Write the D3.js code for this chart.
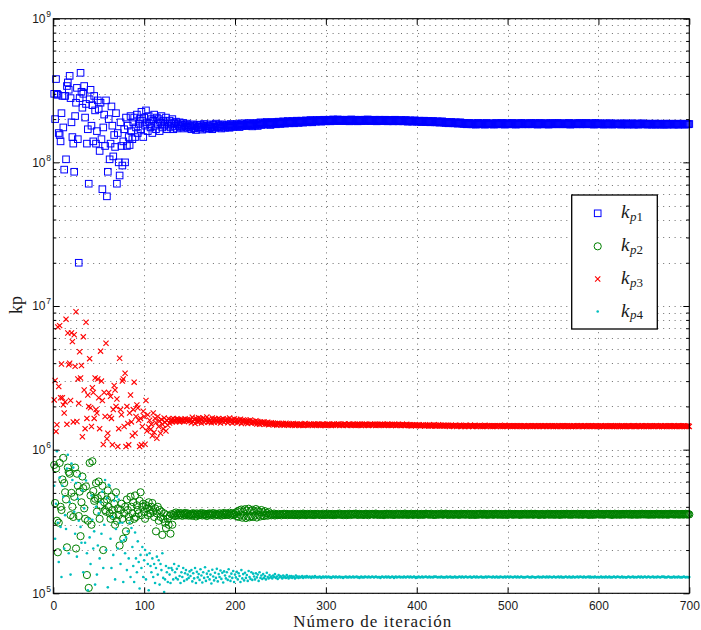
<!DOCTYPE html>
<html>
<head>
<meta charset="utf-8">
<script src="https://cdn.jsdelivr.net/npm/d3@7"></script>
<style>
  body { margin: 0; background: #fff; }
  svg { display: block; }
</style>
</head>
<body>
<svg id="chart" width="701" height="630"></svg>
<script>
// Iteration numbers: transient phase (1-150) and settled phase (151-700)
const earlyIter = d3.range(1, 151);
const tailIter = d3.range(151, 701);

// kp1 values, in units of 1e6
const kp1Early = [300,200,380,300,295,160,155,140,220,290,
  175,89,290,105,340,360,320,400,280,190,
  150,135,86,210,260,330,145,20,280,420,
  310,240,300,340,205,255,135,170,71,275,
  320,180,250,140,290,230,135,165,270,235,
  120,260,145,65,175,215,130,270,58,86,
  200,105,135,245,180,110,155,128,220,71,
  160,100,81,190,130,95,140,170,100,205,
  130,180,150,132,210,165,145,190,205,150,
  175,215,160,185,200,170,225,195,150,205,
  180,230,190,165,210,185,175,200,160,195,
  215,180,170,205,185,200,165,190,210,175,
  195,180,185,205,170,190,180,195,175,185,
  200,170,188,178,192,172,185,180,190,175,
  183,178,188,172,182,177,186,174,181,176];
const kp1Tail = [181,170,178,184,173,179,168,182,175,177,
  172,183,176,169,180,185,174,178,171,181,
  179,173,184,176,170,182,177,174,186,175,
  178,183,175,180,172,184,177,181,174,179,
  182,176,180,174,185,178,183,176,181,179,
  180,185,178,183,176,182,187,179,184,181,
  183,179,186,181,188,180,184,182,178,186,
  185,181,188,183,179,187,184,190,182,186,
  187,183,189,185,191,184,188,186,182,190,
  188,185,191,187,184,190,186,192,188,185,
  190,187,193,189,186,191,188,194,190,187,
  191,189,194,190,187,193,190,195,191,188,
  193,190,195,192,189,194,191,196,193,190,
  194,192,197,193,190,196,193,195,192,197,
  195,193,197,194,192,196,194,198,195,193,
  196,194,198,195,193,197,195,199,196,194,
  197,195,199,196,194,198,195,197,194,198,
  196,194,198,195,197,193,196,199,195,197,
  195,198,194,196,193,197,195,198,194,196,
  197,195,198,194,196,199,195,197,194,196,
  195,197,194,198,196,193,197,195,198,194,
  196,194,197,195,198,194,196,193,197,195,
  194,197,195,193,196,198,194,196,195,193,
  196,194,197,195,193,196,194,197,195,192,
  195,193,196,194,192,195,193,196,194,192,
  194,192,195,193,191,194,192,195,193,191,
  193,191,194,192,190,193,191,194,192,190,
  192,190,193,191,189,192,190,193,191,189,
  190,188,191,189,187,190,188,191,189,187,
  189,187,190,188,186,189,187,190,188,186,
  187,185,188,186,184,187,185,188,186,184,
  186,184,187,185,183,186,188,185,184,187,
  185,187,184,186,183,185,188,184,186,185,
  186,184,187,185,183,186,185,188,184,186,
  185,187,184,186,188,185,183,186,185,187,
  184,186,185,188,184,186,187,185,183,186,
  186,184,187,185,188,184,186,185,187,184,
  185,187,184,186,185,188,184,186,187,185,
  187,185,183,186,188,184,186,185,187,184,
  186,184,187,185,183,186,188,185,184,186,
  185,187,184,186,188,185,184,187,185,186,
  184,186,185,187,184,186,188,185,183,186,
  186,184,187,185,186,184,187,185,188,184,
  185,187,184,186,185,188,184,186,187,185,
  186,184,187,185,183,186,188,185,184,186,
  185,187,184,186,185,183,186,184,187,185,
  184,186,185,187,183,185,186,184,186,185,
  186,184,186,185,183,186,184,187,185,184,
  185,183,186,184,185,187,184,185,183,186,
  184,186,185,183,186,184,185,187,184,185,
  185,184,186,183,185,184,186,185,183,185,
  184,186,183,185,184,186,185,183,185,184,
  185,183,186,184,185,183,184,186,184,185,
  184,185,183,185,184,186,184,183,185,184,
  185,184,186,184,183,185,184,185,184,185];

// kp2 values, in units of 1e3
const kp2Early = [782,425,740,320,193,310,808,400,380,620,
  876,585,505,450,209,750,700,680,350,500,
  400,340,470,750,205,680,560,345,510,250,
  430,650,540,390,330,555,134,320,109,808,
  480,300,830,515,440,455,585,370,460,600,
  330,410,480,560,200,430,380,370,450,520,
  400,360,330,470,380,345,420,300,505,320,
  390,350,215,380,420,330,240,360,400,270,
  450,380,340,320,470,400,360,430,330,480,
  340,410,380,360,440,505,350,400,420,370,
  330,410,390,350,430,380,360,400,425,370,
  340,390,270,360,400,320,380,340,370,255,
  330,360,310,285,350,330,300,345,260,355,
  300,350,360,345,365,350,358,348,362,352,
  360,346,357,351,363,349,356,360,347,355];
const kp2Tail = [350,358,346,361,352,356,343,360,354,349,
  357,351,362,348,355,359,350,356,345,358,
  353,360,349,356,351,362,347,355,358,352,
  356,349,361,353,347,358,352,363,350,355,
  359,351,356,364,348,355,361,350,357,353,
  366,344,372,340,378,352,383,336,370,347,
  385,334,376,342,388,338,374,345,381,340,
  372,348,386,337,377,352,369,343,380,350,
  366,345,373,351,362,347,368,352,358,349,
  355,351,359,348,356,353,350,357,352,355,
  349,356,353,358,351,354,357,350,355,352,
  356,351,354,358,350,355,352,357,353,349,
  354,357,351,355,359,352,356,350,354,357,
  352,355,358,351,354,356,350,357,353,355,
  357,352,355,350,356,353,358,351,355,352,
  354,358,351,356,352,355,357,350,354,356,
  351,355,357,353,359,352,354,356,350,355,
  356,353,350,357,354,358,351,355,353,357,
  353,356,359,352,355,351,357,354,356,352,
  355,351,356,358,353,355,350,357,354,356,
  357,354,352,356,359,353,355,351,356,354,
  352,356,354,350,357,355,358,352,354,357,
  355,352,357,354,351,356,353,358,355,352,
  354,357,353,356,352,355,359,353,356,351,
  356,353,355,358,354,351,356,354,357,353,
  353,356,351,355,357,354,352,356,353,358,
  357,354,356,352,355,358,353,355,351,356,
  354,352,357,355,353,356,359,354,352,355,
  356,359,353,355,351,357,354,356,353,355,
  352,355,357,353,356,354,351,355,358,354,
  355,357,352,356,354,358,353,355,351,357,
  353,356,354,351,357,355,352,356,354,358,
  356,352,355,358,353,356,354,351,357,355,
  354,357,353,355,352,356,358,354,355,352,
  357,354,356,352,355,353,357,355,351,356,
  353,355,358,354,356,352,355,357,353,356,
  356,353,355,351,357,354,356,353,358,354,
  354,357,352,356,355,358,353,355,352,357,
  357,354,356,353,351,356,354,357,355,352,
  353,356,354,358,355,352,357,354,356,353,
  356,352,355,357,353,356,354,351,357,355,
  354,357,353,355,358,354,356,352,355,357,
  352,355,357,354,356,353,358,355,352,356,
  357,354,352,356,355,357,353,356,354,351,
  355,358,354,352,357,355,353,356,358,354,
  354,356,353,357,355,352,356,354,357,355,
  356,353,357,355,351,356,354,358,353,355,
  353,357,355,352,356,354,357,355,353,356,
  357,354,356,353,358,355,352,356,354,357,
  355,352,356,354,357,353,355,358,354,356,
  354,357,353,356,355,352,357,354,356,353,
  356,353,355,358,354,356,353,355,357,354,
  353,356,354,357,355,352,356,354,358,355,
  357,354,356,353,355,357,354,356,353,355,
  355,357,353,356,354,358,355,353,356,354];

// kp3 values, in units of 1e3
const kp3Early = [2220,3030,1340,1490,7150,2750,7300,2300,3950,2300,
  2050,1800,2150,8100,1500,6490,3900,4000,2200,6500,
  5650,1560,6300,3800,9120,1570,3100,2100,4800,3150,
  3850,1230,6100,2600,1400,7700,1650,2400,2000,4300,
  1960,1450,2700,2500,1650,3150,1900,1800,3100,2300,
  1400,4850,3000,2200,1085,2500,1700,5500,1190,1300,
  2500,1700,2350,1650,1080,1900,2800,2600,2000,2250,
  1050,1400,4330,1900,1750,3000,3100,1450,3400,1050,
  2000,1520,1080,1800,2400,1560,1250,1900,2950,1300,
  1700,2050,1950,1600,1050,1650,1080,1450,1850,1700,
  1090,2200,1350,1750,1430,1600,1380,1500,1250,1800,
  1320,1650,1540,1200,1700,1450,1580,1300,1620,1500,
  1400,1660,1550,1350,1600,1480,1640,1530,1590,1620,
  1560,1650,1580,1610,1570,1640,1590,1620,1560,1600,
  1630,1580,1610,1570,1640,1590,1600,1620,1570,1610];
const kp3Tail = [1610,1540,1680,1570,1630,1520,1650,1590,1560,1670,
  1580,1640,1530,1610,1660,1550,1620,1590,1690,1560,
  1630,1570,1600,1540,1660,1610,1550,1640,1580,1620,
  1560,1650,1600,1530,1620,1580,1640,1550,1610,1590,
  1630,1540,1600,1660,1570,1610,1530,1590,1640,1560,
  1590,1620,1540,1600,1570,1630,1520,1580,1610,1550,
  1600,1540,1580,1520,1590,1560,1610,1530,1570,1550,
  1560,1530,1590,1510,1570,1540,1500,1560,1530,1550,
  1520,1560,1500,1540,1510,1550,1490,1530,1510,1540,
  1500,1530,1490,1520,1510,1480,1530,1500,1520,1490,
  1510,1490,1520,1480,1500,1530,1490,1510,1480,1500,
  1490,1510,1480,1520,1500,1470,1510,1490,1500,1480,
  1500,1480,1510,1490,1470,1500,1520,1480,1500,1490,
  1480,1510,1490,1500,1470,1490,1510,1480,1500,1490,
  1510,1480,1500,1470,1490,1510,1480,1500,1490,1470,
  1490,1510,1480,1500,1490,1470,1500,1480,1510,1490,
  1480,1500,1490,1510,1470,1490,1500,1480,1490,1510,
  1500,1480,1490,1470,1500,1510,1480,1490,1500,1480,
  1490,1500,1470,1490,1510,1480,1500,1490,1470,1500,
  1480,1490,1510,1480,1500,1490,1470,1490,1500,1480,
  1500,1480,1490,1510,1470,1490,1500,1480,1490,1500,
  1480,1500,1490,1470,1500,1480,1490,1510,1480,1490,
  1490,1470,1500,1480,1490,1500,1470,1490,1480,1500,
  1480,1490,1470,1500,1480,1490,1470,1480,1500,1480,
  1470,1490,1480,1460,1490,1480,1470,1490,1470,1480,
  1480,1470,1490,1460,1480,1470,1490,1470,1460,1480,
  1470,1480,1460,1490,1470,1460,1480,1470,1490,1460,
  1480,1460,1470,1490,1460,1480,1470,1460,1480,1470,
  1460,1480,1470,1460,1480,1450,1470,1480,1460,1470,
  1470,1460,1480,1450,1470,1460,1480,1470,1450,1470,
  1460,1470,1450,1480,1460,1470,1450,1460,1480,1460,
  1470,1450,1460,1480,1460,1450,1470,1460,1470,1450,
  1460,1470,1450,1460,1480,1460,1450,1470,1460,1470,
  1450,1460,1470,1450,1460,1470,1460,1450,1470,1460,
  1470,1450,1460,1470,1450,1460,1480,1460,1450,1460,
  1460,1470,1450,1460,1470,1450,1460,1470,1460,1450,
  1470,1460,1450,1470,1460,1450,1460,1470,1450,1460,
  1450,1460,1470,1460,1450,1470,1460,1450,1460,1470,
  1460,1450,1460,1470,1450,1460,1470,1460,1450,1460,
  1470,1460,1450,1460,1470,1450,1460,1460,1470,1450,
  1460,1470,1450,1460,1450,1470,1460,1450,1460,1470,
  1450,1460,1470,1450,1460,1470,1450,1460,1460,1450,
  1460,1450,1470,1460,1450,1460,1470,1450,1460,1460,
  1470,1450,1460,1450,1470,1460,1450,1460,1470,1450,
  1460,1470,1450,1460,1460,1450,1470,1460,1450,1460,
  1450,1460,1470,1450,1460,1450,1460,1470,1450,1460,
  1460,1450,1460,1470,1450,1460,1460,1450,1470,1450,
  1470,1450,1460,1450,1460,1470,1450,1460,1450,1460,
  1450,1460,1470,1450,1460,1450,1460,1460,1470,1450,
  1460,1450,1460,1470,1450,1460,1450,1470,1460,1450,
  1460,1470,1450,1460,1450,1460,1470,1450,1460,1460,
  1450,1460,1460,1470,1450,1460,1450,1460,1470,1450,
  1460,1450,1470,1460,1450,1460,1460,1450,1470,1460,
  1450,1460,1470,1450,1460,1450,1460,1470,1450,1460,
  1460,1450,1460,1470,1450,1460,1450,1460,1460,1450];

// kp4 values, in units of 1e3
const kp4Early = [560,240,420,975,310,165,640,290,130,560,
  470,205,350,280,740,920,190,430,135,800,
  615,750,370,260,585,180,455,320,655,290,
  225,520,140,390,225,610,190,105,330,245,
  160,480,325,205,270,115,400,135,215,360,
  175,430,260,510,150,300,615,200,460,110,
  570,560,240,150,340,185,440,125,280,470,
  205,450,310,160,230,310,120,235,190,245,
  145,270,175,310,130,285,210,155,120,265,
  175,140,230,165,108,185,150,210,130,170,
  200,125,185,160,105,190,155,140,175,130,
  160,118,150,180,135,170,115,160,145,190,
  128,102,125,155,140,120,150,135,118,150,
  145,125,160,140,128,148,125,155,132,118,
  140,130,150,122,138,145,125,135,128,142];
const kp4Tail = [132,145,121,138,127,150,118,141,129,136,
  124,147,133,119,140,128,152,122,137,130,
  143,125,135,117,146,131,123,139,128,148,
  121,136,130,144,126,139,119,142,133,127,
  140,124,147,131,122,137,128,143,120,135,
  129,141,125,138,132,120,145,127,136,123,
  139,128,134,122,143,130,126,140,124,137,
  131,125,138,129,135,122,140,128,133,126,
  136,128,132,125,139,130,127,134,129,131,
  127,133,130,136,128,131,126,134,129,132,
  130,127,133,129,131,128,134,130,127,132,
  129,132,128,131,130,127,133,129,131,128,
  131,129,130,132,128,130,131,129,132,130,
  129,131,130,128,131,130,129,132,130,129,
  130,129,131,130,128,130,131,129,130,131,
  129,130,131,129,130,128,130,131,130,129,
  131,130,129,130,131,129,130,130,128,130,
  130,131,129,130,129,131,130,129,130,131,
  129,130,130,131,129,130,128,130,131,129,
  130,129,131,130,130,129,131,130,129,130,
  131,130,129,130,131,130,129,130,130,128,
  130,131,130,129,130,131,129,130,131,129,
  129,130,131,130,128,130,131,129,130,130,
  131,129,130,130,129,131,130,129,130,131,
  130,129,131,130,129,130,131,130,128,130,
  129,131,130,129,130,131,129,130,130,131,
  130,129,130,131,129,130,130,129,131,130,
  131,130,129,130,130,129,131,130,129,130,
  129,130,131,129,130,130,131,129,130,129,
  130,131,129,130,129,130,131,130,129,131,
  130,129,130,131,130,129,130,130,131,129,
  129,130,131,130,129,131,130,129,130,130,
  131,129,130,129,130,131,129,130,131,130,
  130,130,129,131,130,129,130,131,129,130,
  129,131,130,130,129,130,131,129,130,131,
  130,129,131,130,130,129,130,131,130,129,
  131,130,129,130,131,130,129,130,129,130,
  130,131,130,129,130,129,131,130,130,129,
  129,130,130,131,129,130,130,129,131,130,
  130,129,131,130,129,131,130,130,129,130,
  131,130,129,130,130,131,129,130,131,129,
  130,129,130,131,130,129,130,131,129,130,
  129,131,130,129,130,130,131,129,130,131,
  130,130,129,131,130,129,130,130,131,129,
  131,129,130,130,129,131,130,129,130,130,
  129,130,131,129,130,130,129,131,130,129,
  130,131,129,130,129,130,131,130,129,130,
  131,130,130,129,130,131,129,130,130,129,
  129,130,131,130,129,130,130,131,129,130,
  130,129,130,131,130,129,131,130,129,130,
  131,130,129,130,131,130,129,130,130,131,
  129,130,130,129,131,130,130,129,130,131,
  130,131,129,130,129,130,131,130,129,130,
  129,130,131,129,130,130,129,131,130,129,
  130,129,130,131,130,129,130,130,129,130];

const xTicks = [0, 100, 200, 300, 400, 500, 600, 700];
const yDecades = [5, 6, 7, 8, 9];
const legendSubs = ["p1", "p2", "p3", "p4"];

// ---------------------------------------------------------------
const svg = d3.select("#chart");
const plot = { left: 53.3, right: 689.3, top: 18.7, bottom: 593.3 };

const x = d3.scaleLinear().domain([0, 700]).range([plot.left, plot.right]);
const y = d3.scaleLog().domain([1e5, 1e9]).range([plot.bottom, plot.top]);

const majorY = yDecades.map(d => Math.pow(10, d));
const minorY = [];
yDecades.slice(0, -1).forEach(d => {
  for (let m = 2; m <= 9; m++) minorY.push(m * Math.pow(10, d));
});

// dotted grid
const grid = svg.append("g")
  .attr("stroke", "#6e6e6e")
  .attr("stroke-width", 1)
  .attr("stroke-dasharray", "1,4.7");
grid.selectAll("line.gy").data(majorY.concat(minorY)).join("line")
  .attr("class", "gy")
  .attr("x1", plot.left).attr("x2", plot.right)
  .attr("y1", d => Math.round(y(d)) + 0.5).attr("y2", d => Math.round(y(d)) + 0.5);
grid.selectAll("line.gx").data(xTicks.slice(1, -1)).join("line")
  .attr("class", "gx")
  .attr("y1", plot.top).attr("y2", plot.bottom)
  .attr("x1", d => Math.round(x(d)) + 0.5).attr("x2", d => Math.round(x(d)) + 0.5);

// series
const iterations = earlyIter.concat(tailIter);
const series = [
  { vals: kp1Early.concat(kp1Tail), unit: 1e6, kind: "square", color: "#0000ff" },
  { vals: kp2Early.concat(kp2Tail), unit: 1e3, kind: "circle", color: "#008000" },
  { vals: kp3Early.concat(kp3Tail), unit: 1e3, kind: "cross",  color: "#ff0000" },
  { vals: kp4Early.concat(kp4Tail), unit: 1e3, kind: "dot",    color: "#00bfbf" }
];

function drawMarker(sel, kind, color) {
  if (kind === "square") {
    sel.append("rect").attr("x", -3.3).attr("y", -3.3).attr("width", 6.6).attr("height", 6.6)
      .attr("fill", "none").attr("stroke", color).attr("stroke-width", 1);
  } else if (kind === "circle") {
    sel.append("circle").attr("r", 3.6)
      .attr("fill", "none").attr("stroke", color).attr("stroke-width", 1);
  } else if (kind === "cross") {
    sel.append("path").attr("d", "M-2.6,-2.6L2.6,2.6M-2.6,2.6L2.6,-2.6")
      .attr("fill", "none").attr("stroke", color).attr("stroke-width", 1.1);
  } else {
    sel.append("circle").attr("r", 1.3).attr("fill", color);
  }
}

series.forEach(s => {
  const pts = iterations.map((it, i) => ({ it, v: s.vals[i] * s.unit }))
    .filter(p => p.v >= 1e5 && p.v <= 1e9);
  const g = svg.append("g");
  g.selectAll("g").data(pts).join("g")
    .attr("transform", p => `translate(${x(p.it)},${y(p.v)})`)
    .each(function () { drawMarker(d3.select(this), s.kind, s.color); });
});

// axes with inward ticks
function styleAxis(g) {
  g.select(".domain").remove();
  g.selectAll(".tick line").attr("stroke", "#000").attr("stroke-width", 1);
}
svg.append("g").attr("transform", `translate(0,${plot.bottom})`)
  .call(d3.axisBottom(x).tickValues(xTicks).tickSizeInner(-6).tickSizeOuter(0)
    .tickPadding(7.8).tickFormat(d3.format("d")))
  .call(styleAxis)
  .call(g => g.selectAll("text").attr("font-family", "Liberation Sans, Arial, sans-serif")
    .attr("font-size", 12).attr("fill", "#1a1a1a"));
svg.append("g").attr("transform", `translate(0,${plot.top})`)
  .call(d3.axisTop(x).tickValues(xTicks).tickSizeInner(-6).tickSizeOuter(0).tickFormat(""))
  .call(styleAxis);
[[d3.axisLeft, plot.left], [d3.axisRight, plot.right]].forEach(([axisFn, pos]) => {
  svg.append("g").attr("transform", `translate(${pos},0)`)
    .call(axisFn(y).tickValues(majorY).tickSizeInner(-6).tickSizeOuter(0).tickFormat(""))
    .call(styleAxis);
  svg.append("g").attr("transform", `translate(${pos},0)`)
    .call(axisFn(y).tickValues(minorY).tickSizeInner(-3).tickSizeOuter(0).tickFormat(""))
    .call(styleAxis);
});

// y tick labels as powers of ten
const yLab = svg.append("g").attr("font-family", "Liberation Sans, Arial, sans-serif").attr("fill", "#1a1a1a");
yDecades.forEach(d => {
  const yy = y(Math.pow(10, d));
  yLab.append("text").attr("x", 45.5).attr("y", yy + 4.4).attr("text-anchor", "end")
    .attr("font-size", 12).text("10");
  yLab.append("text").attr("x", 46.3).attr("y", yy - 1.8).attr("text-anchor", "start")
    .attr("font-size", 8.5).text(d);
});

// frame
svg.append("rect")
  .attr("x", plot.left).attr("y", plot.top)
  .attr("width", plot.right - plot.left).attr("height", plot.bottom - plot.top)
  .attr("fill", "none").attr("stroke", "#000").attr("stroke-width", 1.1);

// axis titles
svg.append("text")
  .attr("x", (plot.left + plot.right) / 2 + 1).attr("y", 627.2)
  .attr("text-anchor", "middle")
  .attr("font-family", "Liberation Serif, Times New Roman, serif").attr("font-size", 17)
  .attr("textLength", 158).attr("lengthAdjust", "spacing")
  .attr("fill", "#1a1a1a")
  .text("Número de iteración");
svg.append("text")
  .attr("transform", "translate(22,305) rotate(-90)")
  .attr("text-anchor", "middle")
  .attr("font-family", "Liberation Serif, Times New Roman, serif").attr("font-size", 18)
  .attr("fill", "#1a1a1a")
  .text("kp");

// legend
const lg = svg.append("g");
lg.append("rect").attr("x", 571.7).attr("y", 195).attr("width", 85.6).attr("height", 134)
  .attr("fill", "#fff").attr("stroke", "#000").attr("stroke-width", 1.3);
const entryY = [213.3, 246.3, 279, 311.5];
series.forEach((s, i) => {
  const row = lg.append("g").attr("transform", `translate(597.7,${entryY[i]})`);
  drawMarker(row, s.kind, s.color);
  const t = lg.append("text").attr("x", 621).attr("y", entryY[i] + 5)
    .attr("font-family", "Liberation Serif, Times New Roman, serif").attr("fill", "#1a1a1a");
  t.append("tspan").attr("font-size", 19).attr("font-style", "italic").text("k");
  t.append("tspan").attr("font-size", 13).attr("font-style", "italic").attr("dy", 2.5).attr("dx", 0.5)
    .text(legendSubs[i].charAt(0));
  t.append("tspan").attr("font-size", 13).text(legendSubs[i].slice(1));
});
</script>
</body>
</html>
